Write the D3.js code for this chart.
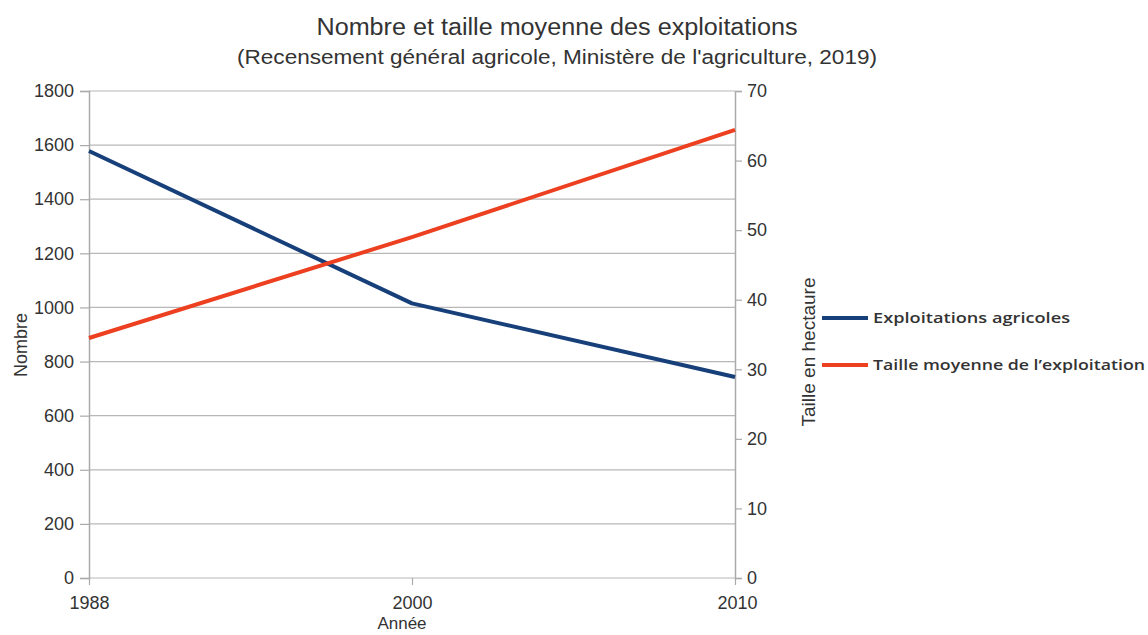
<!DOCTYPE html>
<html>
<head>
<meta charset="utf-8">
<script src="https://cdn.jsdelivr.net/npm/d3@7"></script>
<style>
  body { margin: 0; background: #fff; }
  svg { display: block; }
  text { font-family: "Liberation Sans", Arial, sans-serif; fill: #333; }
</style>
</head>
<body>
<svg id="chart" width="1148" height="635"></svg>
<script>
const years = ["1988", "2000", "2010"];
const exploitations = [1578, 1015, 743];
const tailleMoyenne = [34.5, 49.0, 64.4];
const leftTicks = [0, 200, 400, 600, 800, 1000, 1200, 1400, 1600, 1800];
const rightTicks = [0, 10, 20, 30, 40, 50, 60, 70];
const seriesNames = ["Exploitations agricoles", "Taille moyenne de l\u2019exploitation"];
const seriesColors = ["#17407a", "#ec4020"];

(function () {
const svg = d3.select("#chart");
const pL = 89, pR = 735, pT = 91, pB = 578;

const x = d3.scalePoint().domain(years).range([pL, pR]);
const yL = d3.scaleLinear().domain([0, 1800]).range([pB, pT]);
const yR = d3.scaleLinear().domain([0, 70]).range([pB, pT]);

// gridlines
svg.append("g").selectAll("line").data(leftTicks).join("line")
  .attr("x1", pL).attr("x2", pR)
  .attr("y1", d => yL(d)).attr("y2", d => yL(d))
  .attr("stroke", "#b8b8b8").attr("stroke-width", 1.2);

const gL = svg.append("g").attr("transform", `translate(${pL},0)`)
  .call(d3.axisLeft(yL).tickValues(leftTicks).tickSize(9).tickPadding(6).tickFormat(d3.format("d")));
const gR = svg.append("g").attr("transform", `translate(${pR},0)`)
  .call(d3.axisRight(yR).tickValues(rightTicks).tickSize(7).tickPadding(5).tickFormat(d3.format("d")));
const gB = svg.append("g").attr("transform", `translate(0,${pB})`)
  .call(d3.axisBottom(x).tickSize(7).tickPadding(5));

[gL, gR, gB].forEach(g => {
  g.select(".domain").attr("stroke", "#aaaaaa").attr("stroke-width", 1.5);
  g.selectAll(".tick line").attr("stroke", "#aaaaaa").attr("stroke-width", 1.2);
  g.selectAll(".tick text").attr("font-size", 18).attr("fill", "#333")
    .attr("font-family", "Liberation Sans, Arial, sans-serif");
});
gB.select(".domain").remove();
gB.selectAll(".tick text").attr("dy", null).attr("y", 31);
gB.selectAll(".tick").filter(d => d === years[years.length - 1]).select("text").attr("dx", 2);

const lineL = d3.line().x((d, i) => x(years[i])).y(d => yL(d));
const lineR = d3.line().x((d, i) => x(years[i])).y(d => yR(d));
svg.append("path").datum(exploitations).attr("d", lineL)
  .attr("fill", "none").attr("stroke", seriesColors[0]).attr("stroke-width", 4).attr("stroke-linejoin", "round");
svg.append("path").datum(tailleMoyenne).attr("d", lineR)
  .attr("fill", "none").attr("stroke", seriesColors[1]).attr("stroke-width", 4).attr("stroke-linejoin", "round");

svg.append("text").attr("x", 557).attr("y", 35).attr("text-anchor", "middle")
  .attr("font-size", 23).attr("textLength", 481).attr("lengthAdjust", "spacingAndGlyphs")
  .text("Nombre et taille moyenne des exploitations");
svg.append("text").attr("x", 557).attr("y", 64).attr("text-anchor", "middle")
  .attr("font-size", 20).attr("textLength", 640).attr("lengthAdjust", "spacingAndGlyphs")
  .text("(Recensement général agricole, Ministère de l'agriculture, 2019)");

svg.append("text").attr("transform", "translate(27,345) rotate(-90)").attr("text-anchor", "middle")
  .attr("font-size", 18).text("Nombre");
svg.append("text").attr("transform", "translate(815,352) rotate(-90)").attr("text-anchor", "middle")
  .attr("font-size", 18).attr("textLength", 149).attr("lengthAdjust", "spacingAndGlyphs")
  .text("Taille en hectaure");
svg.append("text").attr("x", 402).attr("y", 629).attr("text-anchor", "middle")
  .attr("font-size", 17).text("Année");

const legLens = [197, 272];
const leg = svg.append("g").selectAll("g").data(seriesNames).join("g")
  .attr("transform", (d, i) => `translate(822,${318 + i * 47})`);
leg.append("line").attr("x1", 0).attr("x2", 46).attr("y1", 0).attr("y2", 0)
  .attr("stroke", (d, i) => seriesColors[i]).attr("stroke-width", 4);
leg.append("text").attr("x", 51).attr("y", 5).attr("font-size", 15)
  .attr("textLength", (d, i) => legLens[i]).attr("lengthAdjust", "spacingAndGlyphs")
  .style("font-family", "'Open Sans', sans-serif").style("font-weight", 600).attr("fill", "#2a2a2a").text(d => d);
})();
</script>
</body>
</html>
